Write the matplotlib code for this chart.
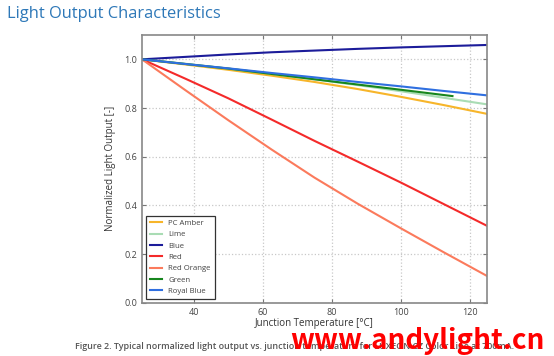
import matplotlib
matplotlib.use('Agg')
import matplotlib.pyplot as plt

# junction temperature [°C]
temps = [25, 37.5, 50, 62.5, 75, 87.5, 100, 112.5, 125]
temps_green = [25, 50, 75, 100, 115]

pc_amber = [1.0, 0.979, 0.957, 0.933, 0.907, 0.878, 0.846, 0.812, 0.776]
lime = [1.0, 0.982, 0.962, 0.941, 0.918, 0.894, 0.869, 0.842, 0.815]
blue = [1.0, 1.010, 1.020, 1.029, 1.036, 1.043, 1.049, 1.054, 1.059]
red = [1.0, 0.921, 0.840, 0.753, 0.665, 0.580, 0.494, 0.405, 0.316]
red_orange = [1.0, 0.874, 0.750, 0.630, 0.514, 0.407, 0.306, 0.207, 0.110]
green = [1.0, 0.962, 0.918, 0.875, 0.849]
royal_blue = [1.0, 0.981, 0.963, 0.944, 0.926, 0.907, 0.889, 0.870, 0.852]

x_ticks = [40, 60, 80, 100, 120]
y_ticks = [0.0, 0.2, 0.4, 0.6, 0.8, 1.0]

plt.rcParams['font.family'] = ['Open Sans', 'DejaVu Sans']

fig = plt.figure(figsize=(5.54, 3.56), dpi=100)
ax = fig.add_axes([0.2563, 0.1497, 0.6227, 0.752])

lw = 1.5
ax.plot(temps, pc_amber, color='#f7b52a', lw=lw, label='PC Amber')
ax.plot(temps, lime, color='#a9dcb4', lw=lw, label='Lime')
ax.plot(temps, blue, color='#1c1c9a', lw=lw, label='Blue')
ax.plot(temps, red, color='#f42a2a', lw=lw, label='Red')
ax.plot(temps, red_orange, color='#fb7a5c', lw=lw, label='Red Orange')
ax.plot(temps_green, green, color='#17861e', lw=lw, label='Green')
ax.plot(temps, royal_blue, color='#2f6fe0', lw=lw, label='Royal Blue')

ax.set_xlim(25, 125)
ax.set_ylim(0, 1.1)
ax.set_xticks(x_ticks)
ax.set_yticks(y_ticks)
ax.set_yticklabels(['%.1f' % v for v in y_ticks])
ax.grid(True, color='#c8c8c8', linestyle=':', linewidth=0.9)
ax.tick_params(direction='in', top=True, right=True, labelsize=6.5,
               labelcolor='#444444', color='#777777', length=3)
for s in ax.spines.values():
    s.set_color('#888888')
    s.set_linewidth(1.2)

ax.set_xlabel('Junction Temperature [°C]', fontsize=7, color='#333333', labelpad=1)
ax.set_ylabel('Normalized Light Output [-]', fontsize=7, color='#333333', labelpad=6)

leg = ax.legend(loc='lower left', fontsize=5.6, handlelength=1.6, labelspacing=0.5,
                borderpad=0.5, fancybox=False, framealpha=1)
leg.get_frame().set_edgecolor('#333333')
leg.get_frame().set_linewidth(0.9)
for t in leg.get_texts():
    t.set_color('#444444')

fig.text(0.013, 0.962, 'Light Output Characteristics', fontsize=11.9, color='#2e78b8',
         va='center', ha='left')
fig.text(0.531, 0.028, 'Figure 2. Typical normalized light output vs. junction temperature '
         'for LUXEON CZ Color Line at 700mA.', fontsize=6.4, color='#555555',
         fontweight='semibold', ha='center', va='center')
fig.text(0.523, 0.02, 'www.andylight.cn', fontsize=20, color='#ff0000',
         family=['Noto Sans CJK SC', 'DejaVu Sans'], fontweight='bold',
         ha='left', va='baseline')

fig.savefig('out.png', dpi=100)
